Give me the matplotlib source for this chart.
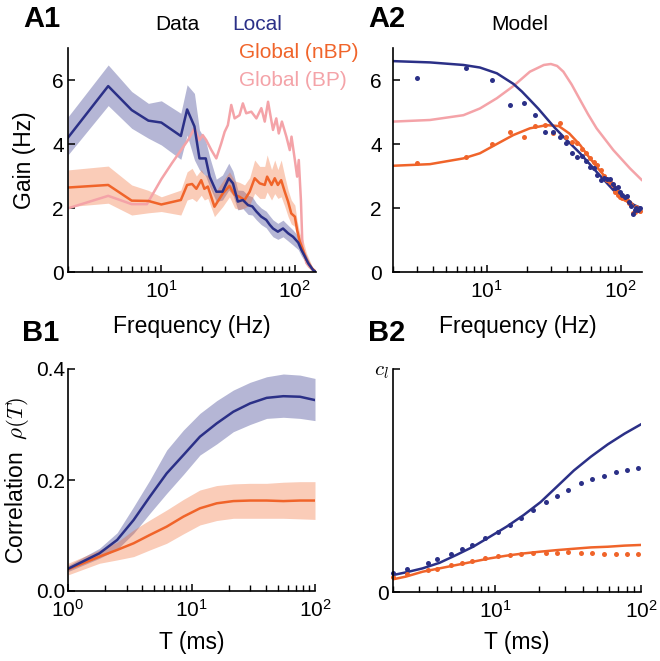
import numpy as np
import matplotlib
matplotlib.use("Agg")
import matplotlib.pyplot as plt
from matplotlib.ticker import LogLocator, NullFormatter, LogFormatterMathtext

plt.rcParams["font.family"] = ["Liberation Sans", "DejaVu Sans"]
plt.rcParams["font.size"] = 15
plt.rcParams["axes.labelsize"] = 16.5

NAVY, ORANGE, PINK = "#2b3087", "#f0642a", "#f4a3a8"

# ---- A1 : data gains ----
a1_loc_f = [2, 4, 6, 8, 10, 14, 15.6, 17.7, 19.3, 21.5, 23, 25.8, 28.7, 32, 34.4, 37.4, 40.8,
            44.6, 48, 51.5, 56, 61, 65, 68.6, 74.6, 81.5, 89, 97, 106, 112, 119, 126, 137, 144]
a1_loc = [4.2, 5.81, 5.06, 4.73, 4.67, 4.25, 5.08, 4.55, 3.55, 3.55, 2.98, 2.51, 2.51, 2.93, 2.77,
          2.2, 2.25, 2.09, 2.05, 1.89, 1.73, 1.63, 1.47, 1.36, 1.26, 1.36, 1.21, 1.1, 0.92, 0.69,
          0.48, 0.27, 0.06, 0.0]
a1_loc_lo = [3.66, 5.2, 4.49, 4.18, 3.97, 3.52, 4.28, 3.5, 3.19, 3.0, 2.67, 2.2, 2.25, 2.56, 2.4,
             1.94, 1.98, 1.8, 1.78, 1.63, 1.48, 1.38, 1.22, 1.1, 1.02, 1.1, 0.97, 0.84, 0.7, 0.5,
             0.33, 0.15, 0.02, 0.0]
a1_loc_hi = [4.85, 6.47, 5.64, 5.27, 5.35, 4.96, 5.85, 5.58, 4.44, 4.1, 3.6, 2.9, 3.03, 3.4, 3.15,
             2.56, 2.55, 2.4, 2.35, 2.15, 2.0, 1.9, 1.75, 1.63, 1.52, 1.62, 1.46, 1.31, 1.12, 0.88,
             0.62, 0.4, 0.1, 0.0]

a1_nbp_f = [2, 4, 6, 8, 10, 14, 15.6, 17, 18.3, 19.9, 21, 22.3, 25, 28.9, 32.4, 35.4, 38.5, 42,
            45.9, 50, 54.6, 59.5, 62, 66.9, 70.7, 74.6, 79, 84, 89, 94, 100, 104, 109, 115, 122,
            134, 144]
a1_nbp = [2.64, 2.72, 2.23, 2.22, 2.11, 2.25, 2.72, 2.75, 2.6, 2.87, 2.6, 2.67, 2.04, 2.46, 2.69,
          2.41, 2.35, 2.25, 2.51, 2.93, 2.77, 2.72, 2.98, 2.72, 2.93, 2.72, 2.87, 2.51, 2.2, 1.83,
          1.73, 1.31, 0.95, 0.69, 0.38, 0.12, 0.0]
a1_nbp_lo = [2.04, 2.15, 1.78, 1.85, 1.89, 1.78, 2.25, 2.3, 2.2, 2.4, 2.25, 2.3, 1.73, 2.05, 2.35,
             2.0, 1.95, 2.0, 2.1, 2.46, 2.3, 2.3, 2.5, 2.25, 2.45, 2.3, 2.35, 2.05, 1.73, 1.5,
             1.42, 1.05, 0.75, 0.48, 0.2, 0.03, 0.0]
a1_nbp_hi = [3.19, 3.31, 2.72, 2.55, 2.35, 2.56, 3.13, 3.24, 3.0, 3.2, 3.03, 3.03, 2.46, 2.85, 3.13,
             2.85, 2.8, 2.72, 2.95, 3.5, 3.3, 3.3, 3.66, 3.2, 3.5, 3.2, 3.5, 3.0, 2.56, 2.25,
             2.09, 1.6, 1.2, 1.0, 0.6, 0.2, 0.0]

a1_bp_f = [2, 4, 6, 7.8, 10, 12, 14, 16, 17.7, 19.3, 20.4, 21.7, 23.7, 25.8, 28.1, 29.8, 31.5,
           33.4, 35.4, 38.5, 40.8, 43.2, 47.2, 51.5, 56.1, 59.5, 63, 65.6, 68.6, 72.6, 75.8, 80,
           86.4, 91.6, 94.4, 100, 104, 107, 111, 114, 122, 137, 144]
a1_bp = [1.99, 2.38, 2.12, 2.12, 2.9, 3.4, 3.8, 4.15, 4.49, 4.12, 4.28, 4.12, 3.81, 3.55, 4.02,
         4.38, 4.59, 5.22, 4.8, 4.9, 5.27, 4.96, 5.01, 4.8, 5.12, 4.7, 5.32, 4.9, 4.44, 4.8, 4.33,
         4.7, 4.23, 3.81, 4.23, 3.5, 2.98, 3.5, 2.25, 0.79, 0.28, 0.06, 0.0]

# ---- A2 : model gains ----
a2_loc_f = [2, 3.77, 6.7, 8.9, 11.9, 15.8, 18.3, 21, 24.3, 28, 32.3, 37.3, 49.7, 66, 88, 117, 143]
a2_loc = [6.59, 6.55, 6.47, 6.39, 6.21, 5.88, 5.64, 5.38, 5.1, 4.8, 4.5, 4.23, 3.71, 3.13, 2.56,
          2.15, 1.99]
a2_bp_f = [2, 3.77, 6.7, 8.9, 11.9, 15.8, 21, 26.7, 30.1, 33.5, 37.3, 43, 49.7, 57, 66, 88, 117, 143]
a2_bp = [4.7, 4.75, 4.9, 5.11, 5.43, 5.81, 6.26, 6.47, 6.5, 6.44, 6.26, 5.86, 5.38, 4.93, 4.49,
         3.81, 3.24, 2.88]
a2_nbp_f = [2, 3.77, 6.7, 8.9, 11.9, 15.8, 21, 28, 34.5, 41.3, 49.7, 57, 66, 88, 117, 143]
a2_nbp = [3.32, 3.37, 3.55, 3.71, 4.0, 4.28, 4.49, 4.59, 4.56, 4.33, 3.97, 3.63, 3.29, 2.67, 2.2,
          1.88]

a2_dot_f = [3, 7, 11, 15, 19, 23, 27, 31, 35, 39, 43, 47, 51, 55, 59, 63, 67, 71, 75, 79, 83,
            87, 91, 95, 99, 103, 107, 111, 115, 119, 123, 127, 131, 135, 139]
a2_dot_loc = [6.05, 6.39, 6.0, 5.23, 5.27, 4.9, 4.37, 4.38, 4.23, 4.02, 3.71, 3.58, 3.63, 3.48,
              3.29, 3.24, 3.03, 2.88, 2.95, 2.91, 2.9, 2.75, 2.61, 2.65, 2.5, 2.4, 2.35, 2.38,
              2.2, 2.06, 1.81, 1.94, 2.0, 1.95, 2.0]
a2_dot_nbp = [3.4, 3.58, 4.0, 4.36, 4.23, 4.56, 4.59, 4.35, 4.65, 4.21, 4.07, 4.02, 3.83, 3.71,
              3.55, 3.45, 3.34, 3.19, 3.0, 2.88, 2.8, 2.72, 2.51, 2.41, 2.35, 2.32, 2.28, 2.25,
              2.15, 2.09, 1.83, 1.88, 2.02, 1.95, 1.9]

# ---- B1 : data correlation ----
b1_T = [1, 1.8, 2.5, 3.4, 4.6, 6.3, 8.6, 11.7, 16, 21.8, 29.8, 40.6, 55.4, 75.6, 100]
b1_loc = [0.04, 0.068, 0.092, 0.128, 0.17, 0.212, 0.245, 0.278, 0.302, 0.323, 0.338, 0.348,
          0.351, 0.35, 0.344]
b1_loc_lo = [0.035, 0.059, 0.075, 0.104, 0.14, 0.176, 0.21, 0.245, 0.265, 0.287, 0.3, 0.311,
             0.313, 0.311, 0.307]
b1_loc_hi = [0.046, 0.077, 0.105, 0.152, 0.2, 0.254, 0.29, 0.32, 0.343, 0.362, 0.376, 0.386,
             0.391, 0.389, 0.383]
b1_glo = [0.039, 0.062, 0.074, 0.086, 0.101, 0.116, 0.134, 0.149, 0.158, 0.162, 0.163, 0.163,
          0.162, 0.163, 0.163]
b1_glo_lo = [0.029, 0.05, 0.056, 0.062, 0.074, 0.086, 0.103, 0.119, 0.127, 0.131, 0.131, 0.131,
             0.131, 0.13, 0.129]
b1_glo_hi = [0.05, 0.074, 0.088, 0.11, 0.128, 0.146, 0.165, 0.182, 0.19, 0.193, 0.194, 0.194,
             0.196, 0.197, 0.197]

# ---- B2 : model correlation (units of c_l) ----
b2_T = [2, 2.45, 3.19, 4.17, 5.43, 7.08, 9.23, 12, 15.7, 20.5, 26.7, 34.7, 45.4, 59.2, 77.1, 100]
b2_loc = [0.076, 0.088, 0.106, 0.131, 0.166, 0.203, 0.248, 0.293, 0.345, 0.403, 0.474, 0.545,
          0.607, 0.662, 0.71, 0.752]
b2_glo = [0.057, 0.069, 0.091, 0.106, 0.121, 0.136, 0.151, 0.163, 0.173, 0.181, 0.188, 0.194,
          0.2, 0.203, 0.208, 0.211]
b2_dot_T = [2, 2.48, 3.46, 3.99, 4.96, 5.98, 6.97, 8.53, 10.5, 12.6, 15.1, 18.1, 22.2, 26.7,
            31.8, 38.6, 46.5, 56, 67.4, 80.3, 96.1]
b2_dot_loc = [0.084, 0.103, 0.131, 0.147, 0.169, 0.191, 0.211, 0.241, 0.27, 0.299, 0.333, 0.366,
              0.402, 0.432, 0.459, 0.487, 0.507, 0.522, 0.537, 0.547, 0.557]
b2_dot_glo = [0.069, 0.079, 0.099, 0.103, 0.121, 0.131, 0.141, 0.151, 0.161, 0.166, 0.17, 0.173,
              0.176, 0.176, 0.178, 0.176, 0.173, 0.17, 0.17, 0.169, 0.169]

W, H = 660, 661
fig = plt.figure(figsize=(W / 100, H / 100), dpi=100)


def add_ax(l, t, r, b):
    return fig.add_axes([l / W, 1 - b / H, (r - l) / W, (b - t) / H])


def ftext(x, y, s, **kw):
    fig.text(x / W, 1 - y / H, s, **kw)


def style(ax, ypad=3):
    for s in ("top", "right"):
        ax.spines[s].set_visible(False)
    for s in ("left", "bottom"):
        ax.spines[s].set_linewidth(1.2)
    ax.set_xscale("log")
    ax.xaxis.set_major_locator(LogLocator(base=10))
    ax.xaxis.set_major_formatter(LogFormatterMathtext())
    ax.xaxis.set_minor_locator(LogLocator(base=10, subs=np.arange(2, 10)))
    ax.xaxis.set_minor_formatter(NullFormatter())
    ax.tick_params(which="major", direction="in", length=5, width=1.1, labelsize=15)
    ax.tick_params(which="minor", direction="in", length=4, width=1.0)
    ax.tick_params(axis="x", which="major", pad=6)
    ax.tick_params(axis="y", which="major", pad=ypad)


# A1
ax = add_ax(68, 48, 316, 272)
style(ax, ypad=3)
ax.fill_between(a1_loc_f, a1_loc_lo, a1_loc_hi, color=NAVY, alpha=0.35, lw=0)
ax.fill_between(a1_nbp_f, a1_nbp_lo, a1_nbp_hi, color=ORANGE, alpha=0.33, lw=0)
ax.plot(a1_bp_f, a1_bp, color=PINK, lw=1.8)
ax.plot(a1_nbp_f, a1_nbp, color=ORANGE, lw=1.8)
ax.plot(a1_loc_f, a1_loc, color=NAVY, lw=1.8)
ax.set_xlim(2, 144)
ax.set_ylim(0, 7)
ax.set_yticks([0, 2, 4, 6])
ax.set_xlabel("Frequency (Hz)", va="center")
ax.xaxis.set_label_coords(0.5, (272 - 326) / 224)
ax.set_ylabel("Gain (Hz)", va="center")
ax.yaxis.set_label_coords((25 - 68) / 248, 0.5)

# A2
ax = add_ax(393, 48, 642, 272)
style(ax, ypad=8)
ax.plot(a2_bp_f, a2_bp, color=PINK, lw=1.8)
ax.plot(a2_nbp_f, a2_nbp, color=ORANGE, lw=1.8)
ax.plot(a2_loc_f, a2_loc, color=NAVY, lw=1.8)
ax.plot(a2_dot_f, a2_dot_nbp, "o", color=ORANGE, ms=3.6, mew=0)
ax.plot(a2_dot_f, a2_dot_loc, "o", color=NAVY, ms=3.6, mew=0)
ax.set_xlim(2, 144)
ax.set_ylim(0, 7)
ax.set_yticks([0, 2, 4, 6])
ax.set_xlabel("Frequency (Hz)", va="center")
ax.xaxis.set_label_coords(0.5, (272 - 326) / 224)

# B1
ax = add_ax(68, 369, 315, 591)
style(ax, ypad=2)
ax.fill_between(b1_T, b1_loc_lo, b1_loc_hi, color=NAVY, alpha=0.35, lw=0)
ax.fill_between(b1_T, b1_glo_lo, b1_glo_hi, color=ORANGE, alpha=0.33, lw=0)
ax.plot(b1_T, b1_glo, color=ORANGE, lw=1.8)
ax.plot(b1_T, b1_loc, color=NAVY, lw=1.8)
ax.set_xlim(1, 100)
ax.set_ylim(0, 0.4)
ax.set_yticks([0, 0.2, 0.4])
ax.set_yticklabels(["0.0", "0.2", "0.4"])
ax.set_xlabel("T (ms)", va="center")
ax.xaxis.set_label_coords(0.5, (591 - 642) / 222)
ax.set_ylabel(r"Correlation  $\rho(T)$", va="center", math_fontfamily="cm")
ax.yaxis.set_label_coords((17 - 68) / 247, 0.5)

# B2
ax = add_ax(393, 369, 641, 592)
style(ax, ypad=3)
ax.plot(b2_T, b2_glo, color=ORANGE, lw=1.8)
ax.plot(b2_T, b2_loc, color=NAVY, lw=1.8)
ax.plot(b2_dot_T, b2_dot_glo, "o", color=ORANGE, ms=3.6, mew=0, clip_on=False)
ax.plot(b2_dot_T, b2_dot_loc, "o", color=NAVY, ms=3.6, mew=0, clip_on=False)
ax.set_xlim(2, 100)
ax.set_ylim(0, 1)
ax.set_yticks([0, 1])
labs = ax.set_yticklabels(["0", r"$c_l$"])
for t in labs:
    t.set_math_fontfamily("cm")
ax.set_xlabel("T (ms)", va="center")
ax.xaxis.set_label_coords(0.5, (592 - 642) / 223)

# panel letters and headings
for x, y, s in [(23, 19, "A1"), (368, 19, "A2"), (22, 333, "B1"), (368, 333, "B2")]:
    ftext(x, y, s, fontsize=21, fontweight="bold", va="center", ha="left")
ftext(177, 24, "Data", ha="center", va="center")
ftext(520, 24, "Model", ha="center", va="center")
ftext(232, 24, "Local", color=NAVY, ha="left", va="center")
ftext(239, 53, "Global (nBP)", color=ORANGE, ha="left", va="center")
ftext(239, 81, "Global (BP)", color=PINK, ha="left", va="center")

fig.savefig("out.png", dpi=100)
